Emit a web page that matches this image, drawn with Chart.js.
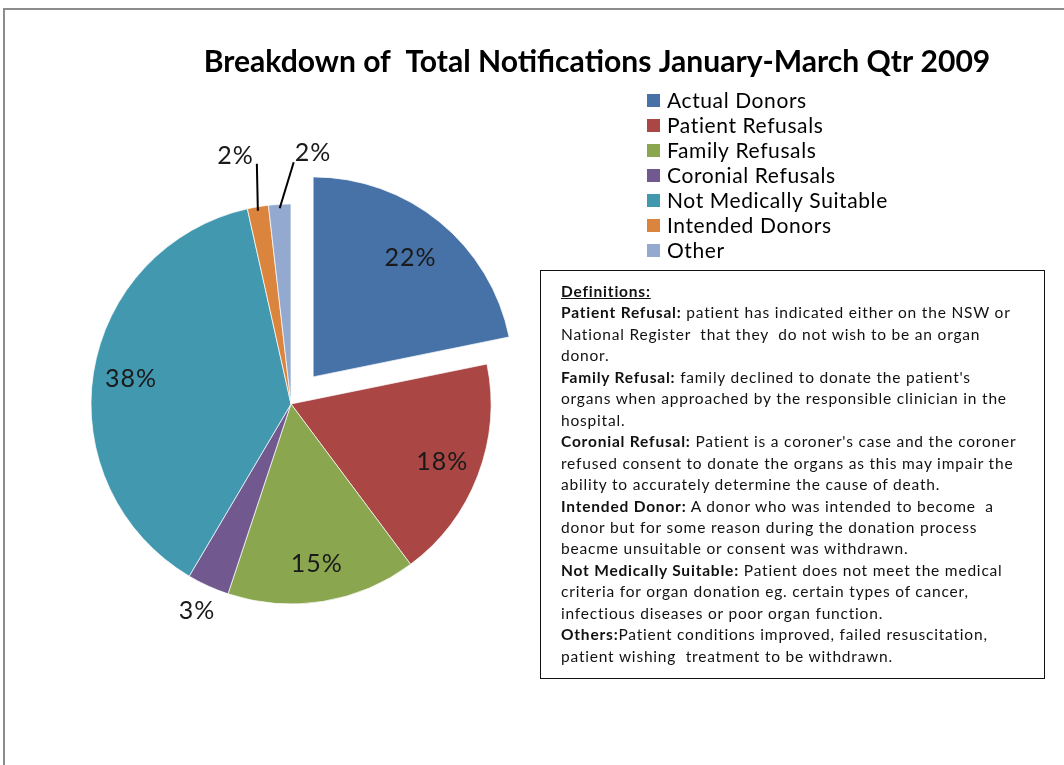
<!DOCTYPE html>
<html>
<head>
<meta charset="UTF-8">
<title>Breakdown of Total Notifications</title>
<script src="https://cdn.jsdelivr.net/npm/chart.js"></script>
<style>
    body { margin: 0; background: #fff; font-family: Lato, sans-serif; }
    #frame { position: absolute; left: 3px; top: 8px; width: 1100px; height: 800px; border: 2px solid #8c8c8c; }
    #chart { position: absolute; left: 0; top: 0; }
    #defs {
        position: absolute; left: 540px; top: 270px; width: 483px; height: 397px;
        border: 1.5px solid #111; padding: 10px 0 0 20px;
        font-size: 15.5px; letter-spacing: 0.8px; line-height: 21.45px; color: #111; white-space: nowrap;
    }
</style>
</head>
<body>
<div id="frame"></div>
<canvas id="chart" width="1064" height="765"></canvas>
<div id="defs">
<u><b>Definitions:</b></u><br>
<b>Patient Refusal:</b> patient has indicated either on the NSW or<br>
National Register &nbsp;that they &nbsp;do not wish to be an organ<br>
donor.<br>
<b>Family Refusal:</b> family declined to donate the patient's<br>
organs when approached by the responsible clinician in the<br>
hospital.<br>
<b>Coronial Refusal:</b> Patient is a coroner's case and the coroner<br>
refused consent to donate the organs as this may impair the<br>
ability to accurately determine the cause of death.<br>
<b>Intended Donor:</b> A donor who was intended to become &nbsp;a<br>
donor but for some reason during the donation process<br>
beacme unsuitable or consent was withdrawn.<br>
<b>Not Medically Suitable:</b> Patient does not meet the medical<br>
criteria for organ donation eg. certain types of cancer,<br>
infectious diseases or poor organ function.<br>
<b>Others:</b>Patient conditions improved, failed resuscitation,<br>
patient wishing &nbsp;treatment to be withdrawn.
</div>
<script>
    var title = 'Breakdown of  Total Notifications January-March Qtr 2009';
    var categories = ['Actual Donors', 'Patient Refusals', 'Family Refusals', 'Coronial Refusals',
        'Not Medically Suitable', 'Intended Donors', 'Other'];
    var shares = [21.8, 18.0, 15.3, 3.4, 38.0, 1.7, 1.8];

    var colors = ['#4672a8', '#aa4644', '#8aa64f', '#71588f', '#4198af', '#db843d', '#93a9cf'];

    // how each percentage label is placed
    var labelPlace = [
        { r: 0.77 }, { r: 0.81 }, { r: 0.81 }, { out: 27 }, { r: 0.81 },
        { leader: [-1, -43], text: [-3, -8], align: 'right' },
        { leader: [14, -42], text: [1, -9], align: 'left' }
    ];

    var explode = 35;

    var explodePlugin = {
        id: 'explode',
        afterDatasetUpdate: function (chart, args) {
            var arc = args.meta.data[0];
            var mid = (arc.startAngle + arc.endAngle) / 2;
            arc.x += Math.cos(mid) * explode;
            arc.y += Math.sin(mid) * explode;
        }
    };

    var labelPlugin = {
        id: 'pctLabels',
        afterDatasetsDraw: function (chart) {
            var ctx = chart.ctx;
            var total = shares.reduce(function (a, b) { return a + b; }, 0);
            ctx.save();
            ctx.font = '25px Lato';
            ctx.letterSpacing = '1px';
            ctx.fillStyle = '#1a1a1a';
            ctx.strokeStyle = '#000';
            ctx.lineWidth = 2;
            ctx.textBaseline = 'middle';
            chart.getDatasetMeta(0).data.forEach(function (arc, i) {
                var mid = (arc.startAngle + arc.endAngle) / 2;
                var R = arc.outerRadius;
                var p = labelPlace[i];
                var txt = Math.round(shares[i] / total * 100) + '%';
                if (p.leader) {
                    var ex = arc.x + Math.cos(mid) * R, ey = arc.y + Math.sin(mid) * R;
                    var lx = ex + p.leader[0], ly = ey + p.leader[1];
                    ctx.beginPath();
                    ctx.moveTo(ex, ey + 4);
                    ctx.lineTo(lx, ly);
                    ctx.stroke();
                    ctx.textAlign = p.align;
                    ctx.fillText(txt, lx + p.text[0], ly + p.text[1]);
                } else {
                    var d = p.out ? R + p.out : R * p.r;
                    ctx.textAlign = 'center';
                    ctx.fillText(txt, arc.x + Math.cos(mid) * d, arc.y + Math.sin(mid) * d);
                }
            });
            ctx.restore();
        }
    };

    var legendTitlePlugin = {
        id: 'legendTitle',
        afterDraw: function (chart) {
            var ctx = chart.ctx;
            ctx.save();
            // title, fitted to the width it has in the picture
            var size = 26;
            ctx.font = 'bold ' + size + 'px Lato';
            size = size * 787 / ctx.measureText(title).width;
            ctx.font = 'bold ' + size + 'px Lato';
            ctx.fillStyle = '#000';
            ctx.textAlign = 'center';
            ctx.textBaseline = 'middle';
            ctx.fillText(title, 597, 62);
            // legend
            ctx.font = '21px Lato';
            ctx.letterSpacing = '0.6px';
            ctx.textAlign = 'left';
            categories.forEach(function (c, i) {
                var y = 100 + 25 * i;
                ctx.fillStyle = colors[i];
                ctx.fillRect(647, y - 6, 13, 13);
                ctx.fillStyle = '#000';
                ctx.fillText(c, 667, y + 1);
            });
            ctx.restore();
        }
    };

    var ctx = document.getElementById('chart').getContext('2d');
    var chart = new Chart(ctx, {
        type: 'pie',
        data: {
            labels: categories,
            datasets: [{
                data: shares,
                backgroundColor: colors,
                borderColor: 'rgba(255,255,255,0.7)',
                borderWidth: 1
            }]
        },
        options: {
            responsive: false,
            animation: false,
            events: [],
            radius: 200,
            layout: { padding: { left: 91, right: 573, top: 204, bottom: 161 } },
            plugins: {
                legend: { display: false },
                tooltip: { enabled: false },
                title: { display: false }
            }
        },
        plugins: [explodePlugin, labelPlugin, legendTitlePlugin]
    });
</script>
</body>
</html>
